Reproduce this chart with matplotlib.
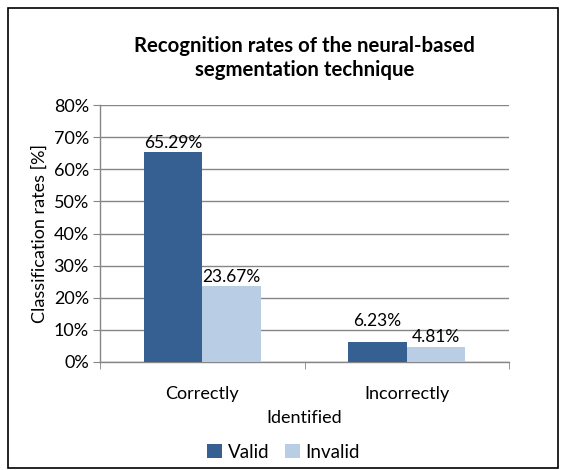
import numpy as np
import matplotlib
matplotlib.use("Agg")
import matplotlib.pyplot as plt
from matplotlib.patches import Rectangle

plt.rcParams['font.family'] = ['Lato', 'DejaVu Sans']

categories = ["Correctly", "Incorrectly"]
valid = [65.29, 6.23]
invalid = [23.67, 4.81]
yticks = [0, 10, 20, 30, 40, 50, 60, 70, 80]

C_VALID = "#376092"
C_INVALID = "#b9cde5"
GRID = "#868686"

fig = plt.figure(figsize=(5.67, 4.70), dpi=100)
W, H = 567, 470
ax = fig.add_axes([100 / W, 1 - 362 / H, 409 / W, 257 / H])

x = np.arange(len(categories))
bw = 0.287
b1 = ax.bar(x - bw / 2, valid, bw, color=C_VALID, label="Valid", zorder=3)
b2 = ax.bar(x + bw / 2, invalid, bw, color=C_INVALID, label="Invalid", zorder=3)

# Excel nudged the small "valid" label up so it doesn't collide with its neighbour
label_lift = {(0, 1): 8}
for si, (bars, vals) in enumerate([(b1, valid), (b2, invalid)]):
    for ci, (r, v) in enumerate(zip(bars, vals)):
        ax.annotate(f"{v:.2f}%", (r.get_x() + r.get_width() / 2, v),
                    xytext=(0, 1 + label_lift.get((si, ci), 0)), textcoords="offset points",
                    ha="center", va="bottom", fontsize=12.5)

ax.set_xlim(-0.5, 1.5)
ax.set_ylim(0, 80)
ax.set_yticks(yticks)
ax.set_yticklabels([f"{t}%" for t in yticks], fontsize=13)
ax.yaxis.grid(True, color=GRID, linewidth=1.0, zorder=0)
ax.set_xticks(x)
ax.set_xticklabels(categories, fontsize=13)
ax.set_xticks([-0.5, 0.5, 1.5], minor=True)
ax.tick_params(axis="x", which="major", length=0, pad=17)
ax.tick_params(axis="x", which="minor", length=5, color=GRID)
ax.tick_params(axis="y", length=5, color=GRID, pad=3)

for s in ["top", "right"]:
    ax.spines[s].set_visible(False)
for s in ["left", "bottom"]:
    ax.spines[s].set_color(GRID)
    ax.spines[s].set_linewidth(1.0)

ax.set_xlabel("Identified", fontsize=13, labelpad=6)
ax.set_ylabel("Classification rates [%]", fontsize=13, labelpad=4)
ax.set_title("Recognition rates of the neural-based\nsegmentation technique",
             fontsize=14.7, fontweight="bold", pad=21, linespacing=1.25)

ax.legend(loc="center", bbox_to_anchor=(0.5, 1 - 452 / H), bbox_transform=fig.transFigure,
          ncol=2, frameon=False, fontsize=13.5, handlelength=0.8, handleheight=0.8,
          handletextpad=0.3, columnspacing=0.8)

fig.patches.append(Rectangle((8 / W, 2 / H), 550 / W, 1 - 10 / H, transform=fig.transFigure,
                             fill=False, edgecolor="black", linewidth=1.2))

fig.savefig("out.png", dpi=100)
